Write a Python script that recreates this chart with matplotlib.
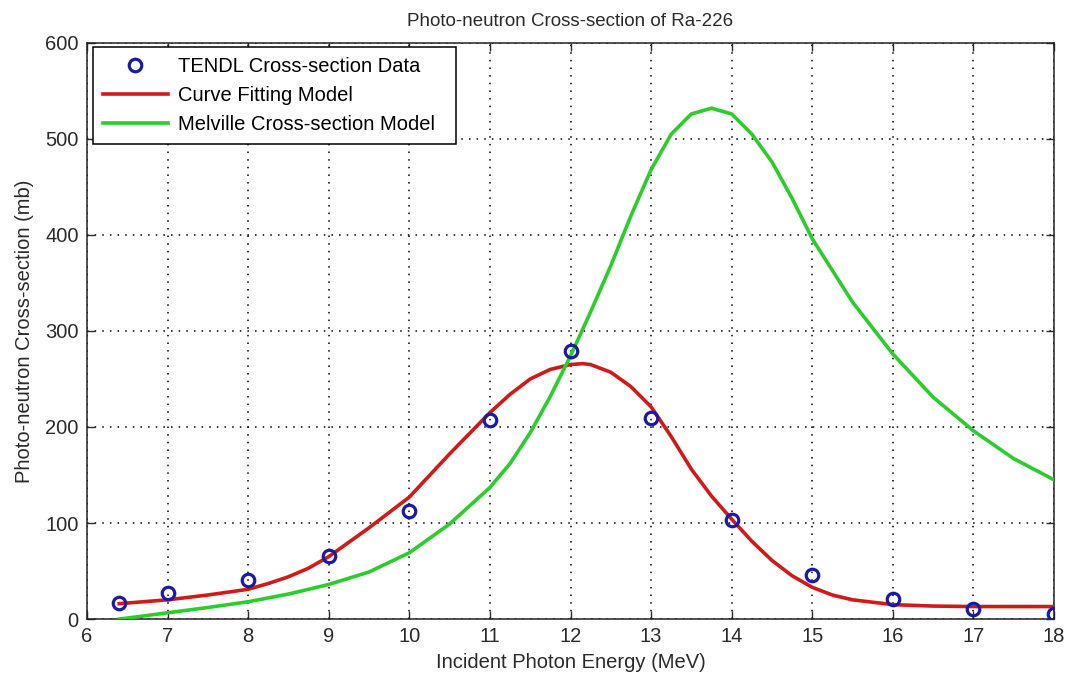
import matplotlib
matplotlib.use("Agg")
import matplotlib.pyplot as plt

# TENDL data points
tendl_x = [6.4, 7, 8, 9, 10, 11, 12, 13, 14, 15, 16, 17, 18]
tendl_y = [17, 27, 41, 66, 113, 207, 279, 209, 103, 46, 21, 10.5, 5.5]

# Curve fitting model
fit_x = [6.4, 7, 7.5, 8, 8.25, 8.5, 8.75, 9, 9.5, 10, 10.5, 11, 11.25, 11.5, 11.75, 12, 12.15, 12.25,
         12.5, 12.75, 13, 13.25, 13.5, 13.75, 14, 14.25, 14.5, 14.75, 15, 15.25, 15.5, 16, 16.5, 17, 17.5, 18]
fit_y = [16, 20, 25, 31, 37, 44, 53, 65, 95, 127, 172, 215, 234, 250, 260, 265, 266, 265,
         257, 242, 221, 190, 156, 128, 104, 81, 61, 45, 33, 25, 20, 15, 13.5, 13, 13, 13]

# Melville cross-section model
mel_x = [6.4, 6.5, 7, 7.5, 8, 8.5, 9, 9.5, 10, 10.5, 11, 11.25, 11.5, 11.75, 12, 12.25, 12.5, 12.75,
         13, 13.25, 13.5, 13.75, 14, 14.25, 14.5, 14.75, 15, 15.5, 16, 16.5, 17, 17.5, 18]
mel_y = [0, 1, 6.5, 12, 18, 26, 36, 49, 69, 99, 137, 162, 194, 232, 274, 320, 368, 420,
         468, 505, 526, 532, 526, 505, 476, 438, 396, 330, 276, 231, 196, 167, 145]

x_ticks = list(range(6, 19))
y_ticks = list(range(0, 601, 100))

plt.rcParams['font.family'] = ['Liberation Sans', 'DejaVu Sans']

fig = plt.figure(figsize=(10.65, 6.81), dpi=100)
fig.patch.set_facecolor('white')
ax = fig.add_axes([0.0817, 0.091, 0.9080, 0.846])

ax.plot(tendl_x, tendl_y, linestyle='none', marker='o', markersize=9,
        markerfacecolor='none', markeredgecolor='#1a1aa8', markeredgewidth=2.3,
        label='TENDL Cross-section Data', zorder=4)
ax.plot(fit_x, fit_y, color='#d01a1a', linewidth=2.6, label='Curve Fitting Model', zorder=3)
ax.plot(mel_x, mel_y, color='#2ccc2c', linewidth=2.6, label='Melville Cross-section Model', zorder=3)

ax.set_xlim(6, 18)
ax.set_ylim(0, 600)
ax.set_xticks(x_ticks)
ax.set_yticks(y_ticks)
ax.tick_params(direction='in', length=6, width=1, top=True, right=True,
               labelsize=14.5, colors='#2a2a2a', pad=6)
ax.grid(True, linestyle=(0, (1, 4)), color='black', linewidth=1.1)
for s in ax.spines.values():
    s.set_linewidth(1.1)
    s.set_color('#222222')

ax.set_title('Photo-neutron Cross-section of Ra-226', fontsize=13.5, color='#2a2a2a', pad=12)
ax.set_xlabel('Incident Photon Energy (MeV)', fontsize=14.5, color='#2a2a2a', labelpad=5)
ax.set_ylabel('Photo-neutron Cross-section (mb)', fontsize=14.5, color='#2a2a2a', labelpad=8)

leg = ax.legend(loc='upper left', bbox_to_anchor=(0.0062, 0.0, 0.3754, 0.993), mode='expand',
                fontsize=14.5, frameon=True, fancybox=False,
                edgecolor='black', framealpha=1, handlelength=3.2, handletextpad=0.5,
                borderaxespad=0.0, borderpad=0.5, labelspacing=0.5)
leg.get_frame().set_linewidth(1.1)

fig.savefig('out.png', dpi=100, facecolor='white')
